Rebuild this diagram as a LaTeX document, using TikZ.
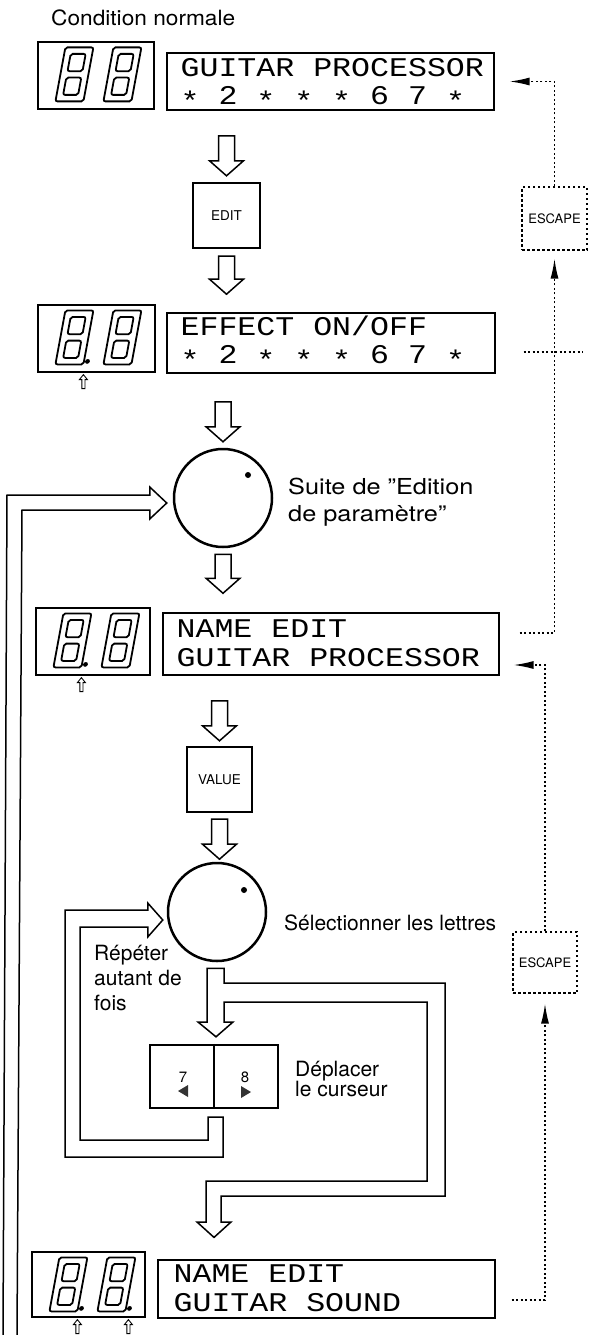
\documentclass[tikz,border=0pt]{standalone}
\usepackage{graphicx}
\usepackage{fontspec}
\setmainfont{TeX Gyre Heros}
\newfontfamily\lcdfont{Liberation Mono}[FakeStretch=1.17]
\usetikzlibrary{calc,arrows.meta}
\newcommand\lst{\raisebox{-6pt}{*}}
\tikzset{
 thinbox/.style={draw, line width=1.2pt, inner sep=0pt, rectangle},
 keybox/.style={draw, line width=2.4pt, inner sep=0pt, rectangle, font=\fontsize{13.5}{13.5}\selectfont},
 escbox/.style={draw, line width=1.3pt, dash pattern=on 2.5pt off 2.5pt, inner sep=0pt, rectangle, font=\fontsize{13}{13}\selectfont},
 knob/.style={draw, circle, line width=2.5pt, minimum size=98pt, inner sep=0pt},
 hollow/.style={draw, fill=white, line width=1.5pt, line join=miter},
 dotline/.style={line width=1.4pt, dash pattern=on 2pt off 2.5pt},
 lcd/.style={anchor=base west, inner sep=0pt, font=\lcdfont\fontsize{27}{27}\selectfont},
 lbl/.style={anchor=base west, inner sep=0pt, font=\fontsize{21}{25}\selectfont},
 seg/.style={line width=1.8pt, rounded corners=2pt},
 tipl/.style={-{Latex[length=20pt,width=8pt]}},
}
\newcommand\digitat[2]{%
 \begin{scope}[shift={#1}, xslant=0.185]
  \draw[seg] (0,0) rectangle (28,54);
  \draw[seg] (6.5,6.5) rectangle (21.5,23.8);
  \draw[seg] (6.5,30.2) rectangle (21.5,47.5);
  \ifnum#2=1 \fill (31.5,51) circle (2.4pt);\fi
 \end{scope}}
\newcommand\segdisplay[3]{%
 \digitat{([shift={(28pt,-6pt)}]#1.north west)}{#2}%
 \digitat{([shift={(76pt,-6pt)}]#1.north west)}{#3}}
\newcommand\uparr[1]{%
 \draw[hollow, line width=0.9pt] let \p1=#1 in (\x1,\y1) -- (\x1+4pt,\y1-5pt) -- (\x1+1.6pt,\y1-5pt) -- (\x1+1.6pt,\y1-14pt) -- (\x1-1.6pt,\y1-14pt) -- (\x1-1.6pt,\y1-5pt) -- (\x1-4pt,\y1-5pt) -- cycle;}
\newcommand\blockdown[2]{%
 \draw[hollow] let \p1=#1, \p2=#2 in (\x1-8pt,\y1) -- (\x1+8pt,\y1) -- (\x1+8pt,\y2+15pt) -- (\x1+17pt,\y2+15pt) -- (\x1,\y2) -- (\x1-17pt,\y2+15pt) -- (\x1-8pt,\y2+15pt) -- cycle;}
\begin{document}
\begin{tikzpicture}[x=1pt,y=-1pt]
\useasboundingbox (0,0) rectangle (595,1335);

% title
\node[lbl] (title) at (51,26) {\scalebox{1.08}[1]{Condition normale}};

% displays
\node[thinbox, minimum width=116pt, minimum height=67pt] (s1) at (96,75.5) {};
\node[thinbox, minimum width=327pt, minimum height=57pt] (t1) at (330.5,81.5) {};
\node[thinbox, minimum width=117pt, minimum height=67pt] (s2) at (96.5,338.5) {};
\node[thinbox, minimum width=328pt, minimum height=60pt] (t2) at (331,343) {};
\node[thinbox, minimum width=114pt, minimum height=67pt] (s3) at (93,641.5) {};
\node[thinbox, minimum width=336pt, minimum height=62pt] (t3) at (331,644) {};
\node[thinbox, minimum width=113pt, minimum height=65pt] (s4) at (88.5,1284.5) {};
\node[thinbox, minimum width=337pt, minimum height=58pt] (t4) at (326.5,1289) {};

\segdisplay{s1}{0}{0}
\segdisplay{s2}{1}{0}
\segdisplay{s3}{1}{0}
\segdisplay{s4}{1}{1}
\uparr{([shift={(46pt,-2pt)}]s2.south west)}
\uparr{([shift={(46pt,-2pt)}]s3.south west)}
\uparr{([shift={(46pt,-2pt)}]s4.south west)}
\uparr{([shift={(97pt,-2pt)}]s4.south west)}

\node[lcd] (l1a) at ([shift={(14pt,-24pt)}]t1.north west) {GUITAR PROCESSOR};
\node[lcd] (l1b) at ([shift={(14pt,-52pt)}]t1.north west) {\lst{} 2 \lst{} \lst{} \lst{} 6 7 \lst{}};
\node[lcd] (l2a) at ([shift={(14pt,-23pt)}]t2.north west) {EFFECT ON/OFF};
\node[lcd] (l2b) at ([shift={(14pt,-51pt)}]t2.north west) {\lst{} 2 \lst{} \lst{} \lst{} 6 7 \lst{}};
\node[lcd] (l3a) at ([shift={(14pt,-25pt)}]t3.north west) {NAME EDIT};
\node[lcd] (l3b) at ([shift={(14pt,-54pt)}]t3.north west) {GUITAR PROCESSOR};
\node[lcd] (l4a) at ([shift={(16pt,-23pt)}]t4.north west) {NAME EDIT};
\node[lcd] (l4b) at ([shift={(16pt,-52pt)}]t4.north west) {GUITAR SOUND};

% keys and knobs
\node[keybox, minimum width=67pt, minimum height=65pt] (edit) at (226.5,215.5) {EDIT};
\node[keybox, minimum width=65pt, minimum height=65pt] (value) at (219.5,779.5) {VALUE};
\node[knob] (k1) at (223,498) {};
\fill ($(k1)+(25,-23)$) circle (3pt);
\node[knob] (k2) at (217,912) {};
\fill ($(k2)+(27,-22)$) circle (3pt);
\node[keybox, minimum width=128pt, minimum height=63pt] (btn) at (214,1076.5) {};
\draw[line width=2.2pt] (btn.north) -- (btn.south);
\node[font=\fontsize{15}{15}\selectfont, inner sep=0pt] (n7) at (183,1077) {7};
\node[font=\fontsize{15}{15}\selectfont, inner sep=0pt] (n8) at (245,1077) {8};
\fill[black!80] (178,1091) -- (188,1085) -- (188,1097) -- cycle;
\fill[black!80] (251,1092) -- (241,1086) -- (241,1098) -- cycle;

% escape boxes
\node[escbox, minimum width=65pt, minimum height=63pt] (e1) at (554.5,218.5) {ESCAPE};
\node[escbox, minimum width=64pt, minimum height=61pt] (e2) at (545,962.5) {ESCAPE};

% labels
\node[lbl, font=\fontsize{22}{26}\selectfont] (suite1) at (288,494) {\scalebox{1.15}[1]{Suite de ''Edition}};
\node[lbl, font=\fontsize{22}{26}\selectfont] (suite2) at (288,521) {\scalebox{1.15}[1]{de paramètre''}};
\node[lbl] (sel) at (284,930) {Sélectionner les lettres};
\node[lbl] (rep1) at (94,960) {Répéter};
\node[lbl] (rep2) at (94,985) {autant de};
\node[lbl] (rep3) at (94,1010) {fois};
\node[lbl] (dep1) at (295,1076) {Déplacer};
\node[lbl] (dep2) at (295,1096) {le curseur};

% block arrows
\blockdown{([yshift=46pt]edit.north)}{([yshift=6pt]edit.north)}
\blockdown{([yshift=-7pt]edit.south)}{([yshift=-45pt]edit.south)}
\blockdown{([yshift=46pt]k1.north)}{([yshift=6pt]k1.north)}
\blockdown{([yshift=-6pt]k1.south)}{([yshift=-45pt]k1.south)}
\blockdown{([yshift=45pt]value.north)}{([yshift=5pt]value.north)}
\blockdown{([yshift=-6pt]value.south)}{([yshift=-46pt]value.south)}

% long return pipe to first knob
\coordinate (tip1) at ([shift={(-6pt,-5pt)}]k1.west);
\coordinate (lb1) at (3,1335);
\coordinate (lb2) at (17,1335);
\draw[hollow, fill=none] (lb1) -- (7,495) -- ($(tip1)+(-17,-8)$) -- ($(tip1)+(-17,-16)$) -- (tip1) -- ($(tip1)+(-17,16)$) -- ($(tip1)+(-17,7)$) -- (22,510) -- (lb2);

% repeat pipe from buttons to second knob
\coordinate (tip2) at ([shift={(-4pt,-8pt)}]k2.west);
\draw[hollow] ($(btn.south)+(-6,8)$) -- (208,1140) -- (80,1140) -- (80,927) -- ($(tip2)+(-15,7)$) -- ($(tip2)+(-15,17)$) -- (tip2) -- ($(tip2)+(-15,-17)$) -- ($(tip2)+(-15,-10)$) -- (65,910) -- (65,1157) -- (223,1157) -- ($(btn.south)+(9,8)$) -- cycle;

% forward pipe from second knob to buttons and to last display
\coordinate (tip3) at ([yshift=7pt]btn.north);
\coordinate (tip4) at ([shift={(-112.5pt,22pt)}]t4.north);
\draw[hollow] ($(k2.south)+(-10,6)$) -- (207,1022) -- (198,1022) -- ($(tip3)+(2,0)$) -- (233,1022) -- (224,1022) -- (224,1002) -- (427,1002) -- (427,1181) -- (206,1181) -- (206,1222) -- (197,1222) -- (tip4) -- (231,1222) -- (221,1222) -- (221,1196) -- (445,1196) -- (445,983) -- (224,983) -- ($(k2.south)+(7,6)$) -- cycle;

% dotted escape connectors
\draw[dotline, tipl] (e1.north) |- ([xshift=15pt]t1.east);
\draw[dotline, tipl] ([shift={(20pt,11pt)}]t3.east) -| ([yshift=-8pt]e1.south);
\draw[dotline] ([shift={(28pt,-9pt)}]t2.east) -- ([shift={(28pt,-9pt)}]t2.east -| e1.south);
\draw[dotline, tipl] (e2.north) |- ([shift={(14pt,-21pt)}]t3.east);
\draw[dotline, tipl] ([shift={(16pt,-11pt)}]t4.east) -| ([yshift=-10pt]e2.south);
\end{tikzpicture}
\end{document}
